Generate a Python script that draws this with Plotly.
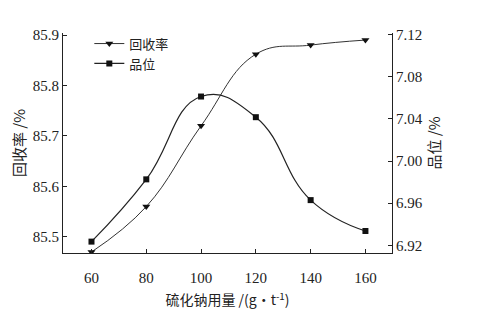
import plotly.graph_objects as go

dosage = [60, 80, 100, 120, 140, 160]
recovery = [85.47, 85.56, 85.72, 85.862, 85.88, 85.89]
grade = [6.9235, 6.9826, 7.0612, 7.0416, 6.9629, 6.9336]

x_ticks = [60, 80, 100, 120, 140, 160]
y1_ticks = [85.5, 85.6, 85.7, 85.8, 85.9]
y2_ticks = [6.92, 6.96, 7.00, 7.04, 7.08, 7.12]

font_main = "Liberation Serif, Times New Roman, Noto Sans CJK SC, serif"
font_cjk = "Noto Sans CJK SC, Liberation Serif, serif"

fig = go.Figure()
fig.add_trace(go.Scatter(
    x=dosage, y=recovery, name="回收率", mode="lines+markers",
    line=dict(color="#333333", width=1, shape="spline", smoothing=1.2),
    marker=dict(symbol="triangle-down", size=7, color="#111111"),
    yaxis="y"))
fig.add_trace(go.Scatter(
    x=dosage, y=grade, name="品位", mode="lines+markers",
    line=dict(color="#222222", width=1.2, shape="spline", smoothing=1.3),
    marker=dict(symbol="square", size=6, color="#111111"),
    yaxis="y2"))

axis_common = dict(showline=True, linecolor="#222222", linewidth=1.2,
                   ticks="inside", ticklen=4, tickcolor="#222222",
                   showgrid=False, zeroline=False, automargin=False,
                   tickfont=dict(family=font_main, size=15, color="#222222"))

fig.update_layout(
    width=473, height=312,
    margin=dict(l=55, r=89, t=25, b=67),
    paper_bgcolor="white", plot_bgcolor="white",
    showlegend=True,
    legend=dict(x=0.08, y=1.02, xanchor="left", yanchor="top",
                bgcolor="rgba(0,0,0,0)", tracegroupgap=0,
                font=dict(family=font_cjk, size=13, color="#222222"),
                itemwidth=30),
    xaxis=dict(range=[49.6, 169.7], tickvals=x_ticks, ticklabelstandoff=11,
               title=dict(text="硫化钠用量 /(g·t<sup>-1</sup>)",
                          font=dict(family=font_cjk, size=14, color="#222222"),
                          standoff=10),
               **axis_common),
    yaxis=dict(range=[85.468, 85.904], tickvals=y1_ticks, tickformat=".1f",
               title=dict(text="回收率 /%",
                          font=dict(family=font_cjk, size=15, color="#222222"),
                          standoff=14),
               **axis_common),
    yaxis2=dict(range=[6.9127, 7.1215], tickvals=y2_ticks, tickformat=".2f",
                overlaying="y", side="right",
                title=dict(text="品位 /%",
                           font=dict(family=font_cjk, size=15, color="#222222"),
                           standoff=4),
                **axis_common),
)

fig.write_html("out.html")
